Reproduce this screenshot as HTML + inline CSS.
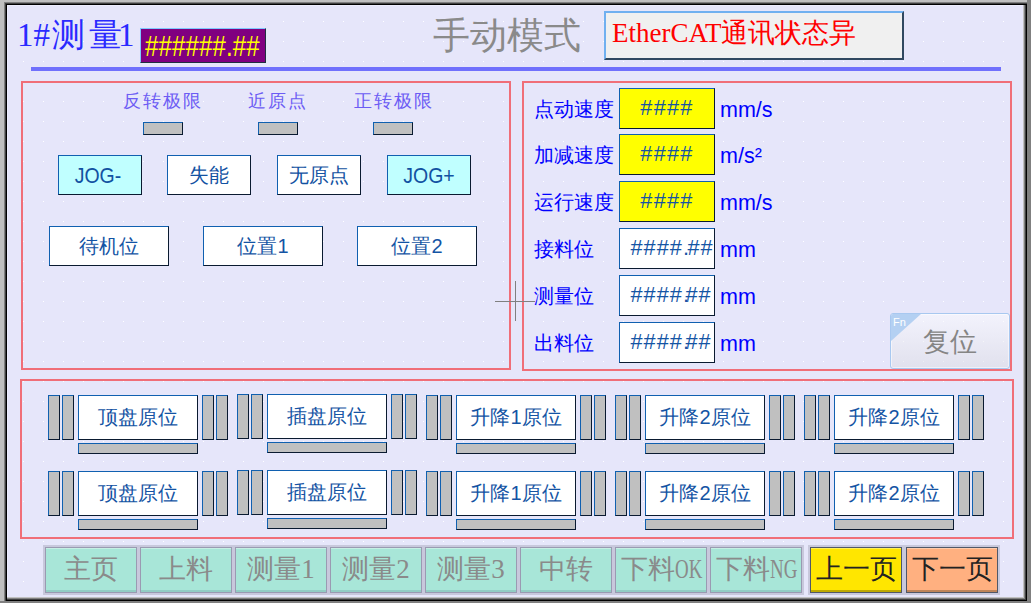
<!DOCTYPE html>
<html><head><meta charset="utf-8">
<style>
*{margin:0;padding:0;box-sizing:border-box}
html,body{width:1031px;height:603px;overflow:hidden;background:#c0c0c0;position:relative}
div,span{position:absolute}
.sans{font-family:"Liberation Sans",sans-serif}
.serif{font-family:"Liberation Serif",serif}
.mono{font-family:"Liberation Mono",monospace}
#rgray{left:1027px;top:0;width:4px;height:603px;background:#808080}
#bgray{left:0;top:601px;width:1031px;height:2px;background:#808080}
#blk{left:4px;top:2px;width:1023px;height:599px;background:#808080}
#blk2{left:5px;top:3px;width:1022px;height:598px;background:#404040}
#blk3{left:6px;top:4px;width:1021px;height:597px;background:#000}
#bev{left:7px;top:5px;width:1019px;height:595px;background:#404040}
#bev2{left:7px;top:5px;width:1018px;height:594px;background:#808080}
#bev3{left:7px;top:5px;width:1017px;height:593px;background:#c0c0c0}
#lav{left:7px;top:5px;width:1016px;height:592px;background:#e6e6fa;border-left:1px solid #eeeefe;border-top:1px solid #eeeefe}
#dots{left:0;top:0;width:1031px;height:603px}
.panel{border:2px solid #f06e78}
.bl{background:#0000ff}
.btn{border-style:solid;border-width:1px;border-color:#1060b0 #0a1a30 #0a1a30 #1060b0;background:#fff;color:#1454a4;text-align:center;font-family:"Liberation Sans",sans-serif}
.ind{border-style:solid;border-width:1px;border-color:#1060b0 #0a1a30 #0a1a30 #1060b0;background:#c0c0c0}
.lbl{color:#0000ff;font-family:"Liberation Sans",sans-serif;font-size:19.6px;line-height:20px;white-space:nowrap}
.nav{top:545px;width:96px;height:50px;border:2px solid #c8c8dc;font-family:"Liberation Serif",serif;font-size:27px;color:#8a8a8a;text-align:center;line-height:42px;white-space:nowrap}
.nav i{position:absolute;left:0;top:0;right:0;bottom:0;border:1px solid #9a9ab2;box-shadow:inset 0 1px 0 rgba(255,255,255,.35),inset 0 -2px 0 rgba(0,40,60,.13);font-style:normal}
</style></head><body>
<div id="rgray"></div><div id="bgray"></div>
<div id="blk"></div><div id="blk2"></div><div id="blk3"></div>
<div id="bev"></div><div id="bev2"></div><div id="bev3"></div>
<div id="lav"></div>
<svg id="dots" style="position:absolute;left:0;top:0" width="1031" height="603"><defs><pattern id="p" x="3" y="1" width="20" height="20" patternUnits="userSpaceOnUse"><rect x="0" y="0" width="1" height="1" fill="#fff"/></pattern></defs><rect x="8" y="6" width="1015" height="591" fill="url(#p)"/></svg>

<!-- header -->
<div class="serif" style="left:17px;top:15px;font-size:33px;line-height:40px;color:#2a2aff;white-space:nowrap">1#<span style="position:static;margin-left:2px;letter-spacing:4px">测</span><span style="position:static;letter-spacing:-4px">量</span>1</div>
<div style="left:140px;top:28px;width:126px;height:35px;background:#800080;border-style:solid;border-width:1px;border-color:#80c8ff #203040 #203040 #80c8ff"></div>
<div class="sans" style="left:145px;top:29px;font-size:24px;line-height:33px;color:#ffff00;white-space:nowrap;transform:scaleY(1.25);transform-origin:0 50%;letter-spacing:0.15px">######.##</div>
<div style="left:31px;top:67px;width:970px;height:4px;background:#7070fc"></div>
<div class="serif" style="left:433px;top:14px;font-size:37px;line-height:44px;color:#8a8a8a;white-space:nowrap">手动模式</div>
<div style="left:604px;top:11px;width:300px;height:49px;background:#f0f0f0;border-style:solid;border-width:2px 2px 2px 2px;border-color:#70b0f0 #304860 #304860 #70b0f0"></div>
<div class="serif" style="left:612px;top:15px;font-size:27px;line-height:36px;color:#ff0000;white-space:nowrap">EtherCAT通讯状态异</div>

<!-- panels -->
<div class="panel" style="left:21px;top:81px;width:490px;height:289px"></div>
<div class="panel" style="left:522px;top:81px;width:490px;height:290px"></div>
<div class="panel" style="left:20px;top:379px;width:994px;height:160px"></div>
<div class="serif" style="left:123px;top:91px;font-size:17.5px;line-height:20px;letter-spacing:1.9px;color:#6c5cf4;white-space:nowrap">反转极限</div>
<div class="serif" style="left:248px;top:91px;font-size:17.5px;line-height:20px;letter-spacing:1.9px;color:#6c5cf4;white-space:nowrap">近原点</div>
<div class="serif" style="left:354px;top:91px;font-size:17.5px;line-height:20px;letter-spacing:1.9px;color:#6c5cf4;white-space:nowrap">正转极限</div>
<div class="ind" style="left:143px;top:122px;width:40px;height:13px"></div>
<div class="ind" style="left:258px;top:122px;width:40px;height:13px"></div>
<div class="ind" style="left:373px;top:122px;width:40px;height:13px"></div>
<div class="btn" style="left:58px;top:155px;width:84px;height:40px;background:#c0ffff;font-size:20px;line-height:39px;color:#1252a2"><span style="position:static;display:inline-block;transform:scaleY(1.13);font-size:19.5px">JOG-</span><span style="position:static;display:inline-block;width:4px"></span></div>
<div class="btn" style="left:167px;top:155px;width:84px;height:40px;background:#fff;font-size:20px;line-height:39px;color:#1252a2">失能</div>
<div class="btn" style="left:277px;top:155px;width:84px;height:40px;background:#fff;font-size:20px;line-height:39px;color:#1252a2">无原点</div>
<div class="btn" style="left:387px;top:155px;width:84px;height:40px;background:#c0ffff;font-size:20px;line-height:39px;color:#1252a2"><span style="position:static;display:inline-block;transform:scaleY(1.13);font-size:19.5px">JOG+</span></div>
<div class="btn" style="left:49px;top:226px;width:120px;height:40px;font-size:20px;line-height:39px">待机位</div>
<div class="btn" style="left:203px;top:226px;width:120px;height:40px;font-size:20px;line-height:39px">位置1</div>
<div class="btn" style="left:357px;top:226px;width:120px;height:40px;font-size:20px;line-height:39px">位置2</div>
<div style="left:495px;top:301px;width:40px;height:1px;background:#808080"></div>
<div style="left:515px;top:281px;width:1px;height:40px;background:#808080"></div>
<div class="lbl" style="left:534px;top:99px">点动速度</div>
<div class="btn" style="left:619px;top:88px;width:96px;height:41px;background:#ffff00;color:#1454a4;font-size:21.7px;line-height:38px;letter-spacing:1.3px;overflow:hidden;white-space:nowrap;text-align:center">####</div>
<div class="lbl" style="left:720px;top:100px;font-size:21.5px">mm/s</div>
<div class="lbl" style="left:534px;top:145px">加减速度</div>
<div class="btn" style="left:619px;top:134px;width:96px;height:41px;background:#ffff00;color:#1454a4;font-size:21.7px;line-height:38px;letter-spacing:1.3px;overflow:hidden;white-space:nowrap;text-align:center">####</div>
<div class="lbl" style="left:720px;top:146px;font-size:21.5px">m/s²</div>
<div class="lbl" style="left:534px;top:192px">运行速度</div>
<div class="btn" style="left:619px;top:181px;width:96px;height:41px;background:#ffff00;color:#1454a4;font-size:21.7px;line-height:38px;letter-spacing:1.3px;overflow:hidden;white-space:nowrap;text-align:center">####</div>
<div class="lbl" style="left:720px;top:193px;font-size:21.5px">mm/s</div>
<div class="lbl" style="left:534px;top:239px">接料位</div>
<div class="btn" style="left:619px;top:228px;width:96px;height:41px;background:#ffffff;color:#1454a4;font-size:21.7px;line-height:38px;letter-spacing:1.3px;overflow:hidden;white-space:nowrap;text-align:left;padding-left:10.5px;letter-spacing:1.05px">####<span style="position:static;letter-spacing:-1.5px">.</span>##</div>
<div class="lbl" style="left:720px;top:240px;font-size:21.5px">mm</div>
<div class="lbl" style="left:534px;top:286px">测量位</div>
<div class="btn" style="left:619px;top:275px;width:96px;height:41px;background:#ffffff;color:#1454a4;font-size:21.7px;line-height:38px;letter-spacing:1.3px;overflow:hidden;white-space:nowrap;text-align:left;padding-left:10.5px;letter-spacing:1.05px">####<span style="position:static;letter-spacing:-3.5px">.</span>##</div>
<div class="lbl" style="left:720px;top:287px;font-size:21.5px">mm</div>
<div class="lbl" style="left:534px;top:333px">出料位</div>
<div class="btn" style="left:619px;top:322px;width:96px;height:41px;background:#ffffff;color:#1454a4;font-size:21.7px;line-height:38px;letter-spacing:1.3px;overflow:hidden;white-space:nowrap;text-align:left;padding-left:10.5px;letter-spacing:1.05px">####<span style="position:static;letter-spacing:-3.5px">.</span>##</div>
<div class="lbl" style="left:720px;top:334px;font-size:21.5px">mm</div>
<div style="left:890px;top:313px;width:120px;height:56px;border:1px solid #a8c8f0;box-shadow:inset 0 0 0 1px rgba(255,255,255,.5);border-radius:3px;background:linear-gradient(rgba(255,255,255,.5),rgba(220,220,225,.5));overflow:hidden"><svg style="position:absolute;left:0;top:0" width="40" height="40"><polygon points="0,0 30,0 0,27" fill="#b4d0f2"/></svg><span class="sans" style="left:2px;top:1px;font-size:11px;line-height:14px;color:#fff">Fn</span><span class="serif" style="left:32px;top:11px;font-size:27px;line-height:34px;color:#858585;white-space:nowrap">复位</span></div>
<div class="ind" style="left:48px;top:395px;width:12px;height:45px"></div>
<div class="ind" style="left:62px;top:395px;width:12px;height:45px"></div>
<div class="ind" style="left:202px;top:395px;width:12px;height:45px"></div>
<div class="ind" style="left:216px;top:395px;width:12px;height:45px"></div>
<div class="btn" style="left:78px;top:395px;width:120px;height:45px;font-size:20px;line-height:42px;white-space:nowrap">顶盘原位</div>
<div class="ind" style="left:78px;top:443px;width:120px;height:11px"></div>
<div class="ind" style="left:48px;top:471px;width:12px;height:45px"></div>
<div class="ind" style="left:62px;top:471px;width:12px;height:45px"></div>
<div class="ind" style="left:202px;top:471px;width:12px;height:45px"></div>
<div class="ind" style="left:216px;top:471px;width:12px;height:45px"></div>
<div class="btn" style="left:78px;top:471px;width:120px;height:45px;font-size:20px;line-height:42px;white-space:nowrap">顶盘原位</div>
<div class="ind" style="left:78px;top:519px;width:120px;height:11px"></div>
<div class="ind" style="left:237px;top:394px;width:12px;height:45px"></div>
<div class="ind" style="left:251px;top:394px;width:12px;height:45px"></div>
<div class="ind" style="left:391px;top:394px;width:12px;height:45px"></div>
<div class="ind" style="left:405px;top:394px;width:12px;height:45px"></div>
<div class="btn" style="left:267px;top:394px;width:120px;height:45px;font-size:20px;line-height:42px;white-space:nowrap">插盘原位</div>
<div class="ind" style="left:267px;top:442px;width:120px;height:11px"></div>
<div class="ind" style="left:237px;top:470px;width:12px;height:45px"></div>
<div class="ind" style="left:251px;top:470px;width:12px;height:45px"></div>
<div class="ind" style="left:391px;top:470px;width:12px;height:45px"></div>
<div class="ind" style="left:405px;top:470px;width:12px;height:45px"></div>
<div class="btn" style="left:267px;top:470px;width:120px;height:45px;font-size:20px;line-height:42px;white-space:nowrap">插盘原位</div>
<div class="ind" style="left:267px;top:518px;width:120px;height:11px"></div>
<div class="ind" style="left:426px;top:395px;width:12px;height:45px"></div>
<div class="ind" style="left:440px;top:395px;width:12px;height:45px"></div>
<div class="ind" style="left:580px;top:395px;width:12px;height:45px"></div>
<div class="ind" style="left:594px;top:395px;width:12px;height:45px"></div>
<div class="btn" style="left:456px;top:395px;width:120px;height:45px;font-size:20px;line-height:42px;white-space:nowrap">升降1原位</div>
<div class="ind" style="left:456px;top:443px;width:120px;height:11px"></div>
<div class="ind" style="left:426px;top:471px;width:12px;height:45px"></div>
<div class="ind" style="left:440px;top:471px;width:12px;height:45px"></div>
<div class="ind" style="left:580px;top:471px;width:12px;height:45px"></div>
<div class="ind" style="left:594px;top:471px;width:12px;height:45px"></div>
<div class="btn" style="left:456px;top:471px;width:120px;height:45px;font-size:20px;line-height:42px;white-space:nowrap">升降1原位</div>
<div class="ind" style="left:456px;top:519px;width:120px;height:11px"></div>
<div class="ind" style="left:615px;top:395px;width:12px;height:45px"></div>
<div class="ind" style="left:629px;top:395px;width:12px;height:45px"></div>
<div class="ind" style="left:769px;top:395px;width:12px;height:45px"></div>
<div class="ind" style="left:783px;top:395px;width:12px;height:45px"></div>
<div class="btn" style="left:645px;top:395px;width:120px;height:45px;font-size:20px;line-height:42px;white-space:nowrap">升降2原位</div>
<div class="ind" style="left:645px;top:443px;width:120px;height:11px"></div>
<div class="ind" style="left:615px;top:471px;width:12px;height:45px"></div>
<div class="ind" style="left:629px;top:471px;width:12px;height:45px"></div>
<div class="ind" style="left:769px;top:471px;width:12px;height:45px"></div>
<div class="ind" style="left:783px;top:471px;width:12px;height:45px"></div>
<div class="btn" style="left:645px;top:471px;width:120px;height:45px;font-size:20px;line-height:42px;white-space:nowrap">升降2原位</div>
<div class="ind" style="left:645px;top:519px;width:120px;height:11px"></div>
<div class="ind" style="left:804px;top:395px;width:12px;height:45px"></div>
<div class="ind" style="left:818px;top:395px;width:12px;height:45px"></div>
<div class="ind" style="left:958px;top:395px;width:12px;height:45px"></div>
<div class="ind" style="left:972px;top:395px;width:12px;height:45px"></div>
<div class="btn" style="left:834px;top:395px;width:120px;height:45px;font-size:20px;line-height:42px;white-space:nowrap">升降2原位</div>
<div class="ind" style="left:834px;top:443px;width:120px;height:11px"></div>
<div class="ind" style="left:804px;top:471px;width:12px;height:45px"></div>
<div class="ind" style="left:818px;top:471px;width:12px;height:45px"></div>
<div class="ind" style="left:958px;top:471px;width:12px;height:45px"></div>
<div class="ind" style="left:972px;top:471px;width:12px;height:45px"></div>
<div class="btn" style="left:834px;top:471px;width:120px;height:45px;font-size:20px;line-height:42px;white-space:nowrap">升降2原位</div>
<div class="ind" style="left:834px;top:519px;width:120px;height:11px"></div>
<div class="nav" style="left:43px;background:#a8e6d8"><i>主页</i></div>
<div class="nav" style="left:138px;background:#a8e6d8"><i>上料</i></div>
<div class="nav" style="left:233px;background:#a8e6d8"><i>测量1</i></div>
<div class="nav" style="left:328px;background:#a8e6d8"><i>测量2</i></div>
<div class="nav" style="left:423px;background:#a8e6d8"><i>测量3</i></div>
<div class="nav" style="left:518px;background:#a8e6d8"><i>中转</i></div>
<div class="nav" style="left:613px;background:#a8e6d8"><i>下料<b style="display:inline-block;width:27px;font-weight:normal;text-align:left;vertical-align:top"><b style="display:inline-block;font-weight:normal;transform:scaleX(0.7);transform-origin:0 0">OK</b></b></i></div>
<div class="nav" style="left:708px;background:#a8e6d8"><i>下料<b style="display:inline-block;width:27px;font-weight:normal;text-align:left;vertical-align:top"><b style="display:inline-block;font-weight:normal;transform:scaleX(0.7);transform-origin:0 0">NG</b></b></i></div>
<div class="nav" style="left:808px;background:#ffe600;color:#222"><i style="border-color:#505868;box-shadow:inset 0 1px 0 rgba(255,255,255,.35),inset 0 -2px 0 rgba(40,30,0,.3)">上一页</i></div>
<div class="nav" style="left:904px;background:#ffb080;color:#222"><i style="border-color:#505868;box-shadow:inset 0 1px 0 rgba(255,255,255,.35),inset 0 -2px 0 rgba(40,30,0,.3)">下一页</i></div>
</body></html>
